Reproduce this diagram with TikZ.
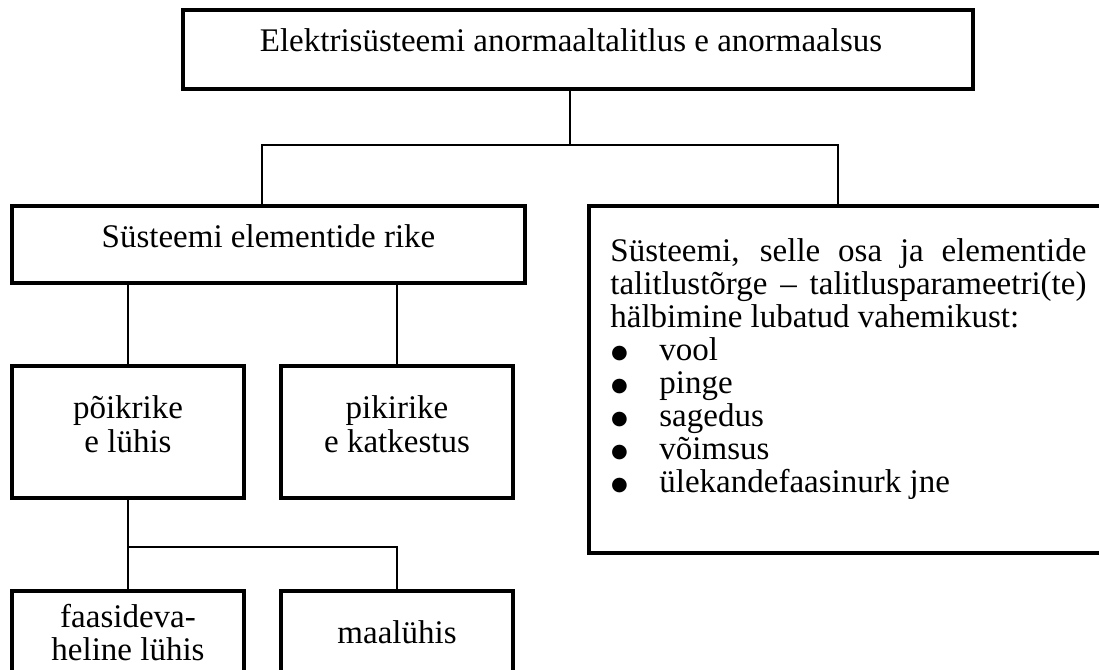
\documentclass[tikz,border=0pt]{standalone}
\usepackage{fontspec}
\setmainfont{Liberation Serif}
\newfontfamily\symfont{DejaVu Sans}
\usetikzlibrary{fit}
\newcommand{\bulitem}[1]{\makebox[24.5pt][l]{\hspace*{0.3pt}\raisebox{0.9pt}{\symfont\fontsize{9.6}{10}\selectfont ●}}#1}
\begin{document}
\begin{tikzpicture}[x=0.5pt,y=-0.5pt,
  box/.style={draw, line width=1.8pt, inner sep=0pt},
  conn/.style={draw, line width=0.7pt},
  txt/.style={font=\fontsize{16.5}{18.5}\selectfont, inner sep=0pt}]
\useasboundingbox (0,0) rectangle (1099,670);
\clip (0,0) rectangle (1099,670);
% boxes
\node[box, fit={(183,10)(973,89)}] (top) {};
\node[box, fit={(12,206)(525,283)}] (rike) {};
\node[box, fit={(589,206)(1120,553)}] (right) {};
\node[box, fit={(12,366)(244,498)}] (poik) {};
\node[box, fit={(281,366)(513,498)}] (pik) {};
\node[box, fit={(12,591)(244,720)}] (faas) {};
\node[box, fit={(281,591)(513,720)}] (maal) {};
% connector junctions
\coordinate (jt) at (570,145);
\coordinate (jl) at (262,145);
\coordinate (jr) at (838,145);
\coordinate (jb) at (128,547);
\draw[conn] (top.south -| jt) -- (jt);
\draw[conn] (rike.north -| jl) -- (jl) -- (jr) -- (right.north -| jr);
\draw[conn] (rike.south -| poik.north) -- (poik.north);
\draw[conn] (rike.south -| pik.north) -- (pik.north);
\draw[conn] (poik.south) -- (faas.north);
\draw[conn] (jb) -| (maal.north);
% texts
\node[txt, anchor=base] (ttop) at (571,51) {Elektrisüsteemi anormaaltalitlus e anormaalsus};
\node[txt, anchor=base] (trike) at (268.5,247) {Süsteemi elementide rike};
\node[txt, anchor=base] (tpoik1) at (128,418) {põikrike};
\node[txt, anchor=base] (tpoik2) at (128,452) {e lühis};
\node[txt, anchor=base] (tpik1) at (397,418) {pikirike};
\node[txt, anchor=base] (tpik2) at (397,452) {e katkestus};
\node[txt, anchor=base] (tfaas1) at (128,627) {faasideva-};
\node[txt, anchor=base] (tfaas2) at (128,660) {heline lühis};
\node[txt, anchor=base] (tmaal) at (397,643) {maalühis};
% right box text
\node[txt, anchor=base west] (r1) at (610,261) {\makebox[238pt][s]{Süsteemi, selle osa ja elementide}};
\node[txt, anchor=base west] (r2) at (610,294) {\makebox[238pt][s]{talitlustõrge \textendash{} talitlusparameetri(te)}};
\node[txt, anchor=base west] (r3) at (610,327) {hälbimine lubatud vahemikust:};
\foreach \t [count=\i] in {vool,pinge,sagedus,võimsus,ülekandefaasinurk jne}{
  \node[txt, anchor=base west] (l\i) at (610,327+33*\i) {\bulitem{\t}};
}
\end{tikzpicture}
\end{document}
